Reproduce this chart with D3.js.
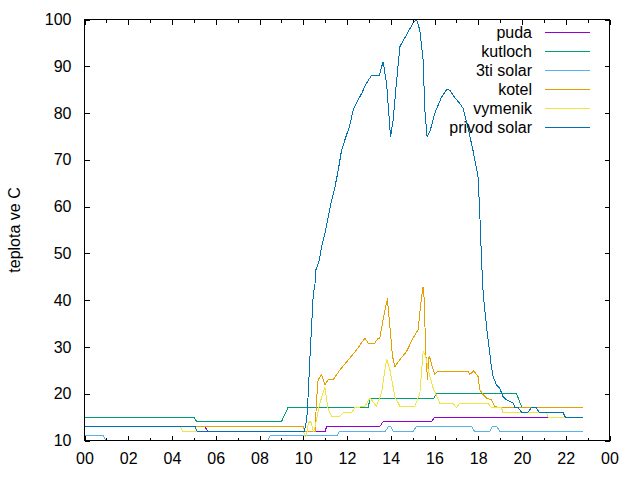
<!DOCTYPE html>
<html><head><meta charset="utf-8">
<script src="https://cdn.jsdelivr.net/npm/d3@7"></script>
<style>
body{margin:0;background:#fff}
svg{display:block}
text{font-family:"Liberation Sans",Arial,sans-serif;font-size:16px;fill:#000}
</style>
</head><body>
<svg id="c" width="640" height="480"></svg>
<script>
// ---- data (time in decimal hours, temperature in °C) ----
const seriesNames  = ["puda","kutloch","3ti solar","kotel","vymenik","privod solar"];
const xTickHours   = [0,2,4,6,8,10,12,14,16,18,20,22,24];
const xTickLabels  = ["00","02","04","06","08","10","12","14","16","18","20","22","00"];
const xMinorHours  = [1,3,5,7,9,11,13,15,17,19,21,23];
const yTickValues  = [10,20,30,40,50,60,70,80,90,100];
const yAxisTitle   = "teplota ve C";

const puda = [[0,13],[5.5,13],[5.63,12],[11.0,12],[11.07,13],[13.5,13],[13.65,14],[15.86,14],[16.0,15],[22.78,15]];

const kutloch = [[0,15],[5.0,15],[5.13,14],[9.0,14],[9.3,17],[12.97,17],[13.05,19],[15.96,19],[16.09,20],[19.75,20],[20.0,17],[22.78,17]];

const solar3 = [[0,11],[0.87,11],[1.05,9],[8.3,9],[8.48,11],[11.55,11],[11.65,12],[13.75,12],[13.9,13],[14.0,13],[14.1,12],
  [15.03,12],[15.17,13],[17.69,13],[17.83,12],[18.53,12],[18.65,13],[18.85,13],[18.97,12],[22.78,12]];

const kotel = [[0,13],[10.0,13],[10.08,12],[10.54,12],[10.61,18.7],[10.68,23],[10.84,24.1],[10.99,21.9],[11.14,23],[11.37,23],
  [11.68,25.1],[12.44,29.4],[12.82,31.9],[12.97,30.8],[13.27,30.8],[13.42,31.9],[13.5,31.9],[13.65,35.8],[13.81,39.7],[13.85,40.1],
  [13.96,34.4],[14.08,28],[14.19,25.8],[14.42,27.3],[14.72,29],[15.02,31.9],[15.25,33.7],[15.41,40.8],[15.48,42.9],[15.53,40.1],
  [15.6,28.7],[15.68,23],[15.75,28],[15.82,27.3],[15.89,25.8],[16.01,24.1],[16.16,24.8],[17.53,24.8],[17.61,24.1],[17.79,24.9],
  [17.99,23.7],[18.07,20.9],[18.22,19.8],[18.37,19.1],[18.6,18.7],[18.75,17.3],[18.98,17],[22.78,17]];

const vymenik = [[0,13],[4.38,13],[4.48,12],[10.0,12],[10.08,10.9],[10.15,11],[10.23,13.8],[10.34,14.1],[10.46,12],[10.53,12.7],
  [10.76,18],[10.99,21.4],[11.14,16.6],[11.3,15.2],[11.68,15.2],[11.83,16],[12.21,16],[12.36,17],[12.82,17.3],[13.05,19.1],
  [13.35,17.3],[13.58,20.2],[13.81,27.5],[13.96,25.1],[14.19,19.4],[14.42,17.3],[15.1,17.3],[15.33,20],[15.48,29],[15.6,28],
  [15.71,25.1],[15.94,21.2],[16.24,18],[16.85,18],[17.0,17],[17.16,18],[18.45,18],[18.6,17],[19.06,17],[19.13,16],
  [21.11,16],[21.19,15],[22.78,15]];

const privod = [[0,13],[5.05,13],[5.15,12],[10.05,12],[10.16,14.5],[10.23,20.2],[10.3,27.3],[10.38,34.4],[10.46,41.5],[10.53,43],
  [10.58,46.5],[10.69,47.9],[10.73,48.6],[10.84,51.4],[10.99,54.3],[11.14,57.8],[11.3,61.4],[11.45,64.2],[11.6,67.8],[11.75,72],
  [11.92,74.5],[12.13,77.4],[12.28,80.6],[12.47,82.5],[12.67,84.2],[12.85,86],[13.0,87.2],[13.12,88],[13.47,88],[13.65,91],
  [13.81,86.3],[13.99,74.9],[14.11,78.5],[14.25,86],[14.42,94.2],[14.57,95.5],[14.72,96.7],[14.87,98],[15.02,99.2],[15.18,100],
  [15.33,97.7],[15.48,91.3],[15.56,80.6],[15.66,74.9],[15.79,76],[16.01,79.9],[16.32,83.4],[16.55,85],[16.7,84.9],[16.9,83.5],
  [17.16,82],[17.31,81],[17.5,77.5],[17.76,72],[17.99,66.4],[18.07,58.6],[18.15,48.6],[18.23,41],[18.4,33.5],[18.6,25.8],
  [18.68,23.7],[18.83,21.9],[18.98,21.2],[19.13,19.4],[19.29,18.7],[19.6,18],[19.68,17],[19.83,17],[19.98,16],[20.27,16],
  [20.43,17],[20.66,17],[20.78,16],[21.87,16],[21.98,15],[22.78,15]];

const seriesData = [puda, kutloch, solar3, kotel, vymenik, privod];
const seriesColors = ["#9400d3","#009e73","#56b4e9","#e69f00","#f0e442","#0072b2"];

// ---- layout ----
const L = 84.5, R = 609.5, T = 19.5, B = 440.5;
const majorLen = 5, minorLen = 3;

const svg = d3.select("#c");
const x = d3.scaleLinear().domain([0,24]).range([L,R]);
const y = d3.scaleLinear().domain([10,100]).range([B,T]);

svg.append("defs").append("clipPath").attr("id","clip")
  .append("rect").attr("x",L).attr("y",T).attr("width",R-L).attr("height",B-T);

// series lines
const line = d3.line().x(d=>x(d[0])).y(d=>y(d[1]));
const g = svg.append("g").attr("clip-path","url(#clip)");
seriesData.forEach((s,i)=>{
  g.append("path").datum(s).attr("d",line)
   .attr("fill","none").attr("stroke",seriesColors[i]).attr("stroke-width",1)
   .attr("shape-rendering","crispEdges");
});

// axes (ticks inward, mirrored)
const fmt = h => xTickLabels[xTickHours.indexOf(h)];
const ax = svg.append("g");
ax.append("g").attr("transform",`translate(0,${B})`)
  .call(d3.axisBottom(x).tickValues(xTickHours).tickFormat(fmt).tickSize(-majorLen).tickSizeOuter(0).tickPadding(12));
ax.append("g").attr("transform",`translate(0,${T})`)
  .call(d3.axisTop(x).tickValues(xTickHours).tickFormat("").tickSize(-majorLen).tickSizeOuter(0));
ax.append("g").attr("transform",`translate(0,${B})`)
  .call(d3.axisBottom(x).tickValues(xMinorHours).tickFormat("").tickSize(-minorLen).tickSizeOuter(0));
ax.append("g").attr("transform",`translate(0,${T})`)
  .call(d3.axisTop(x).tickValues(xMinorHours).tickFormat("").tickSize(-minorLen).tickSizeOuter(0));
ax.append("g").attr("transform",`translate(${L},0)`)
  .call(d3.axisLeft(y).tickValues(yTickValues).tickSize(-majorLen).tickSizeOuter(0).tickPadding(13));
ax.append("g").attr("transform",`translate(${R},0)`)
  .call(d3.axisRight(y).tickValues(yTickValues).tickFormat("").tickSize(-majorLen).tickSizeOuter(0));
ax.selectAll(".domain").remove();
ax.selectAll("line").attr("stroke","#000").attr("shape-rendering","crispEdges");
ax.selectAll("text").attr("font-family",null).attr("font-size",null).attr("fill","#000");

// border
svg.append("rect").attr("x",L).attr("y",T).attr("width",R-L).attr("height",B-T)
  .attr("fill","none").attr("stroke","#000").attr("shape-rendering","crispEdges");

// y axis title
svg.append("text").attr("transform",`translate(20,${(T+B)/2}) rotate(-90)`)
  .attr("text-anchor","middle").text(yAxisTitle);

// legend
const leg = svg.append("g");
seriesNames.forEach((n,i)=>{
  const cy = 32.5 + i*19;
  leg.append("text").attr("x",532).attr("y",cy).attr("dy","0.35em")
    .attr("text-anchor","end").text(n);
  leg.append("line").attr("x1",545).attr("x2",590).attr("y1",cy).attr("y2",cy)
    .attr("stroke",seriesColors[i]).attr("stroke-width",1).attr("shape-rendering","crispEdges");
});
</script>
</body></html>
